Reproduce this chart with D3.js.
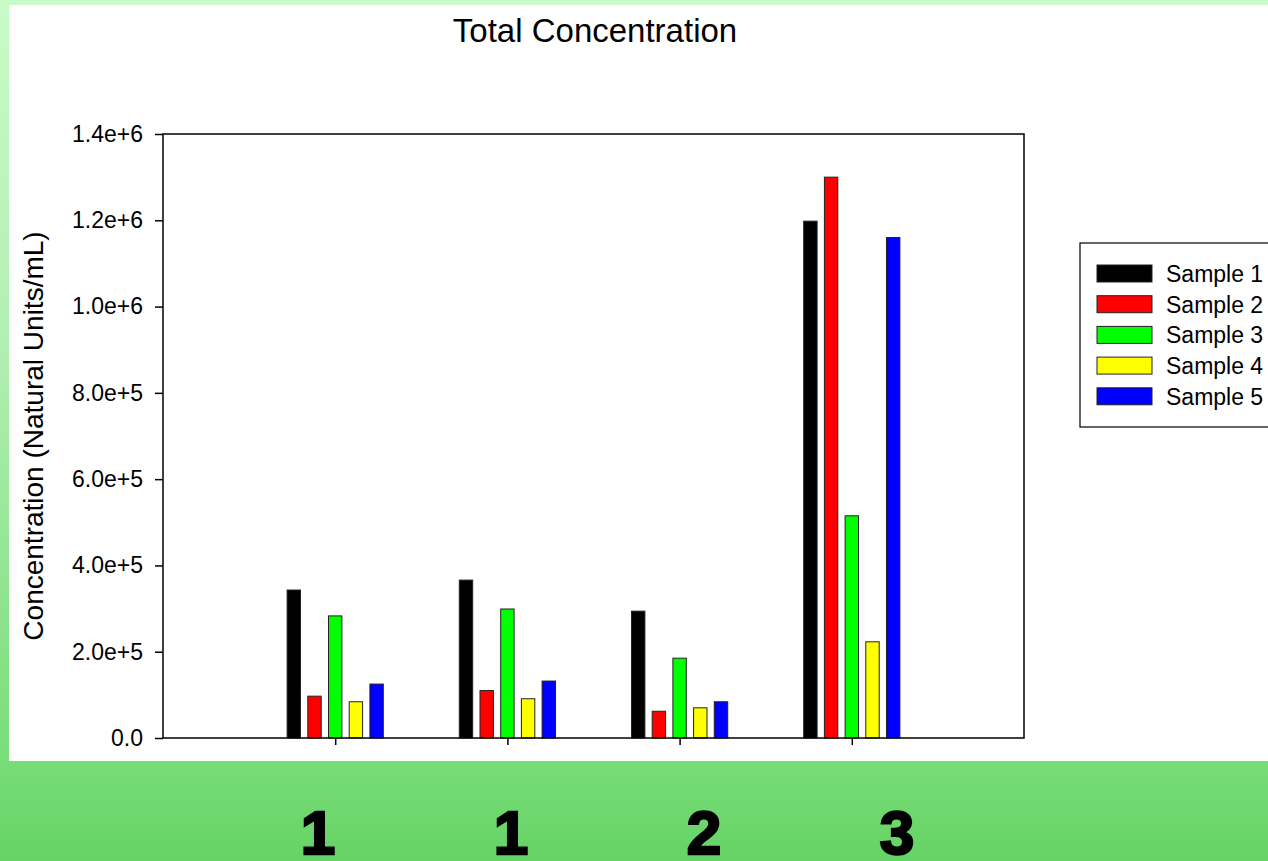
<!DOCTYPE html>
<meta charset="utf-8">
<style>
body { margin: 0; overflow: hidden; }
text { font-family: "Liberation Sans", Arial, sans-serif; }
</style>
<body>
<div id="chart"></div>
<script src="https://d3js.org/d3.v7.min.js"></script>
<script>
// data
var groups = [1, 2, 3, 4];
var groupLabels = ["1", "1", "2", "3"];
var series = ["Sample 1", "Sample 2", "Sample 3", "Sample 4", "Sample 5"];
var colors = ["#000000", "#ff0000", "#00ff00", "#ffff00", "#0000ff"];
var sample1 = [343000, 366000, 294000, 1198000];
var sample2 = [97000, 110000, 62000, 1300000];
var sample3 = [283000, 299000, 185000, 515000];
var sample4 = [84000, 91000, 70000, 223000];
var sample5 = [125000, 132000, 84000, 1160000];
var yTicks = [0, 200000, 400000, 600000, 800000, 1000000, 1200000, 1400000];

var values = [sample1, sample2, sample3, sample4, sample5];

var W = 1268, H = 861;
var margin = {top: 134, left: 163, right: 244, bottom: 123};
var width = W - margin.left - margin.right,
    height = H - margin.top - margin.bottom;

var svg = d3.select("#chart").append("svg")
    .attr("width", W).attr("height", H);

var defs = svg.append("defs");
var grad = defs.append("linearGradient").attr("id", "bg")
    .attr("x1", 0).attr("y1", 0).attr("x2", 0).attr("y2", 1);
grad.append("stop").attr("offset", "0%").attr("stop-color", "#c8fbc8");
grad.append("stop").attr("offset", "40%").attr("stop-color", "#b2efb2");
grad.append("stop").attr("offset", "88%").attr("stop-color", "#79dd79");
grad.append("stop").attr("offset", "100%").attr("stop-color", "#65d365");

svg.append("rect").attr("width", W).attr("height", H).attr("fill", "url(#bg)");
svg.append("rect").attr("x", 9).attr("y", 5)
    .attr("width", W - 9).attr("height", 756).attr("fill", "#fff");

var g = svg.append("g")
    .attr("transform", "translate(" + margin.left + "," + margin.top + ")");

var x = d3.scaleLinear().domain([0, 5]).range([0, width]);
var y = d3.scaleLinear().domain([0, 1400000]).range([height, 0]);

var barW = 13.4, step = 20.7;

// bars
series.forEach(function(s, i) {
    g.selectAll(".bar" + i)
        .data(values[i])
        .enter().append("rect")
        .attr("x", function(d, j) { return x(groups[j]) + (i - 2) * step - barW / 2; })
        .attr("y", function(d) { return y(d); })
        .attr("width", barW)
        .attr("height", function(d) { return height - y(d); })
        .attr("fill", colors[i])
        .attr("stroke", "#222")
        .attr("stroke-width", 1);
});

// frame
g.append("rect").attr("width", width).attr("height", height)
    .attr("fill", "none").attr("stroke", "#000").attr("stroke-width", 1.5);

// y axis
var yAxis = g.append("g")
    .call(d3.axisLeft(y).tickValues(yTicks).tickSize(8).tickPadding(12)
        .tickFormat(function(d) { return d === 0 ? "0.0" : d3.format(".1e")(d); }));
yAxis.attr("font-size", 23).attr("font-family", "'Liberation Sans', Arial, sans-serif");
yAxis.select(".domain").remove();
yAxis.selectAll("line").attr("stroke", "#000").attr("stroke-width", 1.5);
yAxis.selectAll("text").attr("fill", "#000");

// x axis ticks
var xAxis = g.append("g").attr("transform", "translate(0," + height + ")")
    .call(d3.axisBottom(x).tickValues(groups).tickSize(7).tickFormat(""));
xAxis.select(".domain").remove();
xAxis.selectAll("line").attr("stroke", "#000").attr("stroke-width", 1.5);

// title
svg.append("text").attr("x", 595).attr("y", 42)
    .attr("text-anchor", "middle").attr("font-size", "33px")
    .text("Total Concentration");

// y label
svg.append("text")
    .attr("transform", "translate(43," + (margin.top + height / 2) + ") rotate(-90)")
    .attr("text-anchor", "middle").attr("font-size", "28px")
    .text("Concentration (Natural Units/mL)");

// legend
var legend = svg.append("g").attr("transform", "translate(1080,243)");
legend.append("rect").attr("width", 220).attr("height", 184)
    .attr("fill", "#fff").attr("stroke", "#000").attr("stroke-width", 1.2);
series.forEach(function(s, i) {
    legend.append("rect").attr("x", 17).attr("y", 22 + i * 30.7)
        .attr("width", 55).attr("height", 17)
        .attr("fill", colors[i]).attr("stroke", "#222").attr("stroke-width", 1);
    legend.append("text").attr("x", 86).attr("y", 39 + i * 30.7)
        .attr("font-size", "23px").text(s);
});

// big group labels at the bottom
var xl = d3.scalePoint().domain(d3.range(groupLabels.length)).range([318, 897]);
svg.selectAll(".glabel")
    .data(groupLabels)
    .enter().append("text")
    .attr("x", function(d, j) { return xl(j); })
    .attr("y", 854)
    .attr("text-anchor", "middle")
    .attr("font-size", "62px")
    .attr("font-weight", "900")
    .attr("stroke", "#000")
    .attr("stroke-width", 2.5)
    .text(function(d) { return d; });
</script>
</body>
